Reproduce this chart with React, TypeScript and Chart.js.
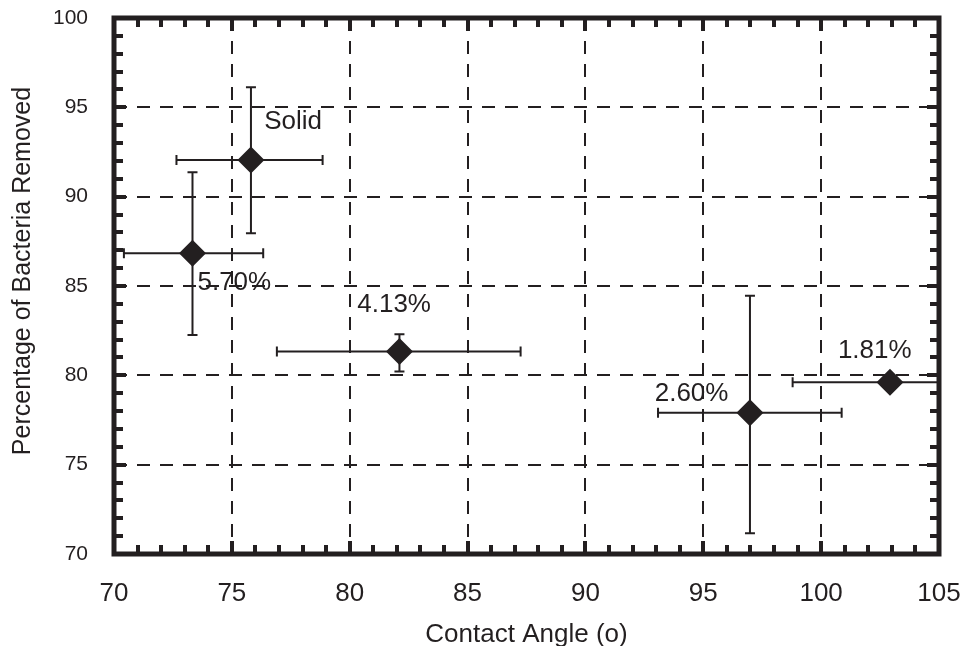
import React, { useEffect, useRef } from 'react';
import { Chart, registerables } from 'chart.js';

Chart.register(...registerables);

// ---- data ----
const pointLabels = ['Solid', '5.70%', '4.13%', '2.60%', '1.81%'];
const contactAngle = [75.81, 73.33, 82.11, 96.98, 102.92];
const bacteriaRemoved = [92.05, 86.83, 81.33, 77.91, 79.61];
const angleLow = [72.65, 70.42, 76.91, 93.08, 98.79];
const angleHigh = [78.85, 76.33, 87.25, 100.87, 107.05];
const removedLow = [87.95, 82.26, 80.21, 71.16, 79.61];
const removedHigh = [96.12, 91.37, 82.3, 84.46, 79.61];
const labelAngle = [76.37, 73.54, 80.32, 92.94, 100.71];
const labelRemoved = [94.18, 85.17, 83.94, 78.96, 81.37];

const xTitle = 'Contact Angle (o)';
const yTitle = 'Percentage of Bacteria Removed';

const xMin = 70;
const xMax = 105;
const yMin = 70;
const yMax = 100;
const majorStep = 5;
const minorStep = 1;

const INK = '#231f20';
const FONT = '"Liberation Sans", Arial, Helvetica, sans-serif';

const decorPlugin = {
  id: 'decor',
  beforeDatasetsDraw(chart: any) {
    const { ctx, chartArea: a, scales } = chart;
    const x = scales.x;
    const y = scales.y;
    ctx.save();
    ctx.beginPath();
    ctx.rect(a.left, a.top, a.right - a.left, a.bottom - a.top);
    ctx.clip();
    ctx.strokeStyle = INK;
    ctx.lineWidth = 2;
    const cap = 5;
    for (let i = 0; i < contactAngle.length; i++) {
      const px = x.getPixelForValue(contactAngle[i]);
      const py = y.getPixelForValue(bacteriaRemoved[i]);
      const xl = x.getPixelForValue(angleLow[i]);
      const xh = x.getPixelForValue(angleHigh[i]);
      ctx.beginPath();
      ctx.moveTo(xl, py);
      ctx.lineTo(xh, py);
      ctx.moveTo(xl, py - cap);
      ctx.lineTo(xl, py + cap);
      ctx.moveTo(xh, py - cap);
      ctx.lineTo(xh, py + cap);
      ctx.stroke();
      if (removedHigh[i] > removedLow[i]) {
        const yl = y.getPixelForValue(removedLow[i]);
        const yh = y.getPixelForValue(removedHigh[i]);
        ctx.beginPath();
        ctx.moveTo(px, yl);
        ctx.lineTo(px, yh);
        ctx.moveTo(px - cap, yl);
        ctx.lineTo(px + cap, yl);
        ctx.moveTo(px - cap, yh);
        ctx.lineTo(px + cap, yh);
        ctx.stroke();
      }
    }
    ctx.restore();
  },
  afterDatasetsDraw(chart: any) {
    const { ctx, chartArea: a, scales } = chart;
    const x = scales.x;
    const y = scales.y;
    ctx.save();
    // annotations
    ctx.fillStyle = INK;
    ctx.font = `26px ${FONT}`;
    ctx.textAlign = 'left';
    ctx.textBaseline = 'middle';
    for (let i = 0; i < pointLabels.length; i++) {
      ctx.fillText(pointLabels[i], x.getPixelForValue(labelAngle[i]), y.getPixelForValue(labelRemoved[i]));
    }
    // y-axis title
    ctx.save();
    ctx.translate(23, (a.top + a.bottom) / 2 - 15);
    ctx.rotate(-Math.PI / 2);
    ctx.textAlign = 'center';
    ctx.textBaseline = 'middle';
    ctx.font = `25px ${FONT}`;
    ctx.fillText(yTitle, 0, 0);
    ctx.restore();
    // inward ticks
    ctx.fillStyle = INK;
    const tw = 4;
    for (let v = xMin + minorStep; v < xMax; v += minorStep) {
      const len = v % majorStep === 0 ? 13 : 9;
      const px = Math.round(x.getPixelForValue(v));
      ctx.fillRect(px - tw / 2, a.top, tw, len);
      ctx.fillRect(px - tw / 2, a.bottom - len, tw, len);
    }
    for (let v = yMin + minorStep; v < yMax; v += minorStep) {
      const len = v % majorStep === 0 ? 12 : 9;
      const py = Math.round(y.getPixelForValue(v));
      ctx.fillRect(a.left, py - tw / 2, len, tw);
      ctx.fillRect(a.right - len, py - tw / 2, len, tw);
    }
    // frame
    ctx.strokeStyle = INK;
    ctx.lineWidth = 5;
    ctx.strokeRect(a.left, a.top, a.right - a.left, a.bottom - a.top);
    ctx.restore();
  },
};

export default function App() {
  const canvasRef = useRef<HTMLCanvasElement | null>(null);

  useEffect(() => {
    if (!canvasRef.current) return;
    const points = contactAngle.map((v, i) => ({ x: v, y: bacteriaRemoved[i] }));
    const chart = new Chart(canvasRef.current, {
      type: 'scatter',
      data: {
        datasets: [
          {
            label: yTitle,
            data: points,
            pointStyle: 'rectRot',
            pointRadius: 13.5,
            pointHoverRadius: 13.5,
            backgroundColor: INK,
            borderColor: INK,
            borderWidth: 0,
          },
        ],
      },
      options: {
        animation: false,
        responsive: false,
        maintainAspectRatio: false,
        layout: { padding: { top: 18, right: 21, left: 0, bottom: 0 } },
        plugins: {
          legend: { display: false },
          tooltip: { enabled: false },
        },
        scales: {
          x: {
            type: 'linear',
            min: xMin,
            max: xMax,
            afterFit(scale: any) {
              scale.height = 92;
              scale.paddingLeft = 0;
              scale.paddingRight = 0;
              scale.paddingTop = 0;
              scale.paddingBottom = 0;
            },
            ticks: {
              stepSize: majorStep,
              color: INK,
              padding: 24,
              maxRotation: 0,
              autoSkip: false,
              font: { family: FONT, size: 26 },
            },
            grid: {
              color: INK,
              lineWidth: 2,
              drawTicks: false,
            },
            border: { display: false, dash: [13, 10] },
            title: {
              display: true,
              text: xTitle,
              color: INK,
              font: { family: FONT, size: 26, lineHeight: 0.85 },
              padding: 0,
            },
          },
          y: {
            type: 'linear',
            min: yMin,
            max: yMax,
            afterFit(scale: any) {
              scale.width = 114;
              scale.paddingLeft = 0;
              scale.paddingRight = 0;
              scale.paddingTop = 0;
              scale.paddingBottom = 0;
            },
            ticks: {
              stepSize: majorStep,
              color: INK,
              padding: 26,
              autoSkip: false,
              font: { family: FONT, size: 21 },
            },
            grid: {
              color: INK,
              lineWidth: 2,
              drawTicks: false,
            },
            border: { display: false, dash: [13, 10] },
            title: { display: false },
          },
        },
      },
      plugins: [decorPlugin],
    });
    return () => chart.destroy();
  }, []);

  return (
    <div style={{ position: 'absolute', left: 0, top: 0, width: 960, height: 646, background: '#fff' }}>
      <canvas ref={canvasRef} width={960} height={646} style={{ display: 'block' }} />
    </div>
  );
}
